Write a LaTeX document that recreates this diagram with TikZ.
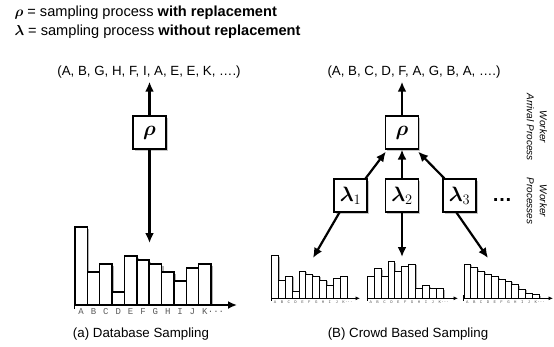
\documentclass[tikz,border=0pt]{standalone}
\usepackage{fontspec}
\setmainfont{Liberation Sans}
\newfontfamily\monofont{Liberation Mono}
\usepackage{bm}
\usetikzlibrary{shadows,arrows.meta}

\newcommand\drawhist[6]{% #1 x0, #2 w, #3 base, #4 heights, #5 line width, #6 shadow offset
  \foreach \h [count=\i] in {#4} {
    \fill[black!30] ({#1+(\i-1)*#2+#6},#3) rectangle ({#1+\i*#2+#6},{#3-\h+#6});
  }
  \foreach \h [count=\i] in {#4} {
    \draw[line width=#5,fill=white] ({#1+(\i-1)*#2},#3) rectangle ({#1+\i*#2},{#3-\h});
  }
}
\newcommand\histletters[5]{% #1 x0, #2 w, #3 y, #4 font size, #5 name prefix
  \foreach \l [count=\i] in {A,B,C,D,E,F,G,H,I,J,K} {
    \node[lbl,font=\monofont\fontsize{#4}{#4}\selectfont] (#5\i) at ({#1+(\i-0.5)*#2},#3) {\l};
  }
  \node[lbl,font=\monofont\fontsize{#4}{#4}\selectfont,anchor=west] (#5dots) at (#511.east) {...};
}

\begin{document}
\begin{tikzpicture}[x=1pt,y=-1pt,
  txt/.style={font=\fontsize{13.3}{16}\selectfont},
  legend/.style={font=\fontsize{14.6}{17}\selectfont,anchor=west},
  box/.style={draw,line width=1.2pt,fill=white,minimum size=33pt,inner sep=0pt,
    font=\fontsize{21}{21}\selectfont,
    drop shadow={shadow xshift=1.8pt,shadow yshift=-1.8pt,opacity=0.45}},
  arr/.style={line width=2.2pt,-{Latex[length=10pt,width=9pt]}},
  axbig/.style={line width=2.2pt,-{Latex[length=9pt,width=8pt]}},
  axsmall/.style={line width=1pt,-{Latex[length=4.5pt,width=4pt]}},
  lbl/.style={text=black!65,inner sep=0pt},
  side/.style={font=\itshape\fontsize{10}{13}\selectfont,rotate=-90,align=center}]
\useasboundingbox (0,0) rectangle (554,346);

% legend
\node[legend] (leg1) at (11,13) {$\bm{\rho}$ = sampling process \textbf{with replacement}};
\node[legend] (leg2) at (11,32) {$\bm{\lambda}$ = sampling process \textbf{without replacement}};

% ---------------- (a) database sampling
\node[txt] (seqA) at (149,72) {(A, B, G, H, F, I, A, E, E, K, ….)};
\node[box] (rhoA) at (149.5,132.5) {$\bm{\rho}$};
\coordinate (histAtop) at (149.5,243);
\draw[arr] (rhoA) -- (rhoA |- seqA.south);
\draw[arr] (rhoA) -- (histAtop);

\drawhist{75}{12.36}{305}{78,33,41,13,49,45,41,33,24,37,41}{1.4pt}{2}
\draw[axbig] (74,305) -- (237,305);
\draw[line width=1.6pt] (74.5,300) -- (74.5,309);
\histletters{75}{12.36}{312}{9}{la}
\node[txt] (capA) at (141,334) {(a) Database Sampling};

% ---------------- (b) crowd based sampling
\node[txt] (seqB) at (414,72) {(A, B, C, D, F, A, G, B, A, ….)};
\node[box] (rhoB) at (402,132.5) {$\bm{\rho}$};
\node[box] (l1) at (350.5,195.5) {$\bm{\lambda}_1$};
\node[box] (l2) at (402,195.5) {$\bm{\lambda}_2$};
\node[box] (l3) at (459.5,195.5) {$\bm{\lambda}_3$};
\node[font=\fontsize{20}{20}\selectfont\bfseries] (more) at (502,200.5) {…};

\draw[arr] (rhoB) -- (rhoB |- seqB.south);
\draw[arr] ([xshift=-2pt]l1.north east) -- ([xshift=1pt,yshift=-2pt]rhoB.south west);
\draw[arr] (l2) -- (rhoB);
\draw[arr] ([xshift=2pt]l3.north west) -- ([xshift=-1pt,yshift=-2pt]rhoB.south east);

\coordinate (h1top) at (313,258);
\coordinate (h2top) at (402,257);
\coordinate (h3top) at (488,258);
\draw[arr] ([xshift=6pt]l1.south west) -- (h1top);
\draw[arr] (l2) -- (h2top);
\draw[arr] ([xshift=-3pt]l3.south) -- (h3top);

\drawhist{271.7}{6.85}{298.3}{42.6,17.6,22.3,6.6,27.3,24.3,22.3,18.3,12.6,20,22.3}{1pt}{1.4}
\draw[axsmall] (271,298.3) -- (360,298.3);
\draw[line width=1pt] (271.5,295) -- (271.5,301);
\histletters{271.7}{6.85}{302}{4}{lb}

\drawhist{367.3}{6.9}{298.3}{22.3,30,22.3,36.6,26.6,31.6,34.3,10,12.6,10,10}{1pt}{1.4}
\draw[axsmall] (366.6,298.3) -- (458,298.3);
\draw[line width=1pt] (367.1,295) -- (367.1,301);
\histletters{367.3}{6.9}{302}{4}{lc}

\drawhist{464}{6.85}{298.3}{34.3,31,27.3,24,21.6,19,17.3,14,9.3,5,4}{1pt}{1.4}
\draw[axsmall] (463.3,298.3) -- (553,298.3);
\draw[line width=1pt] (463.8,295) -- (463.8,301);
\histletters{464}{6.85}{302}{4}{ld}

\node[txt] (capB) at (408,334) {(B) Crowd Based Sampling};

\node[side] (arrival) at (537,127) {Worker\\Arrival Process};
\node[side] (workers) at (537,201) {Worker\\Processes};
\end{tikzpicture}
\end{document}
